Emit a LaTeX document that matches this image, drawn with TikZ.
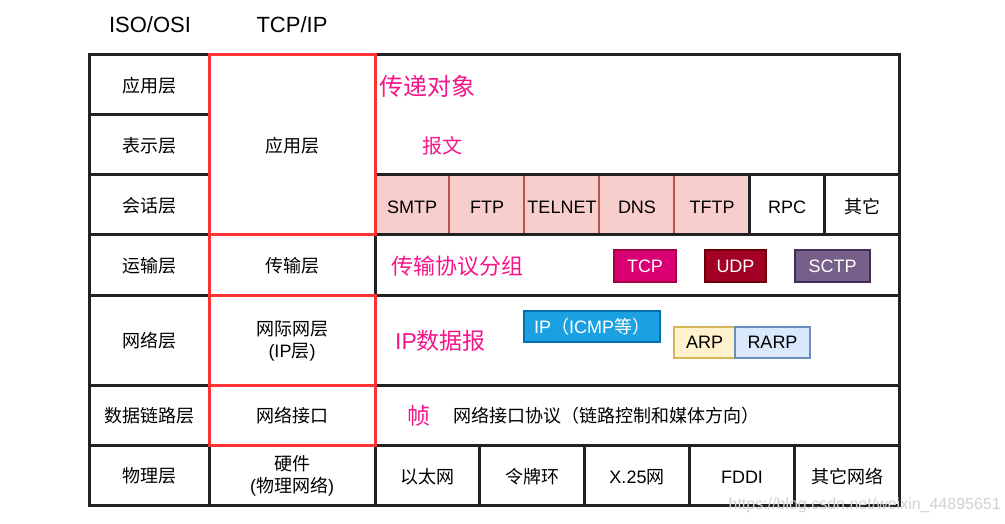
\documentclass[tikz,border=0pt]{standalone}
\usepackage{fontspec}
\setmainfont{Liberation Sans}
\newfontfamily\cjk{Noto Sans CJK SC}
\definecolor{gridc}{HTML}{222222}
\definecolor{redc}{HTML}{FF3333}
\definecolor{pinkc}{HTML}{F5158A}
\definecolor{cellpink}{HTML}{F8CECC}
\definecolor{cellpinkd}{HTML}{B85450}
\definecolor{tcpf}{HTML}{D80073}
\definecolor{tcpd}{HTML}{A50040}
\definecolor{udpf}{HTML}{A20025}
\definecolor{udpd}{HTML}{6F0000}
\definecolor{sctpf}{HTML}{76608A}
\definecolor{sctpd}{HTML}{432D57}
\definecolor{ipf}{HTML}{1BA1E2}
\definecolor{ipd}{HTML}{006EAF}
\definecolor{arpf}{HTML}{FFF2CC}
\definecolor{arpd}{HTML}{D6B656}
\definecolor{rarpf}{HTML}{DAE8FC}
\definecolor{rarpd}{HTML}{6C8EBF}
\begin{document}
\begin{tikzpicture}[x=1pt,y=-1pt,
  gridline/.style={draw=gridc, line width=3pt},
  redline/.style={draw=redc, line width=3pt},
  cell/.style={font=\fontsize{18}{22}\selectfont, align=center, inner sep=0pt, text=black},
  head/.style={font=\fontsize{22}{26}\selectfont, inner sep=0pt},
  pinkt/.style={text=pinkc, inner sep=0pt},
  proto/.style={line width=1.2pt, minimum height=31pt, inner sep=0pt, font=\fontsize{18}{22}\selectfont},
]
\useasboundingbox (0,0) rectangle (1005,524);
% headings
\node[head] (hiso) at (150,25) {ISO/OSI};
\node[head] (htcp) at (292,25) {TCP/IP};
% pink cells
\fill[cellpink] (375,175) rectangle (749,235);
\foreach \x in {449,524,599,674} \draw[cellpinkd, line width=2.5pt] (\x,175) -- (\x,235);
% black grid
\draw[gridline] (89,55) rectangle (899,505);
\draw[gridline] (209,55) -- (209,505);
\draw[gridline] (375,55) -- (375,505);
\draw[gridline] (89,115) -- (209,115);
\draw[gridline] (89,175) -- (209,175);
\draw[gridline] (375,175) -- (899,175);
\foreach \y in {235,295,385,445} \draw[gridline] (89,\y) -- (899,\y);
\foreach \x in {749,824} \draw[gridline] (\x,175) -- (\x,235);
\foreach \x in {479,584,689,794} \draw[gridline] (\x,445) -- (\x,505);
% red boxes
\draw[redline] (209,55) rectangle (375,235);
\draw[redline] (209,235) -- (209,295);
\draw[redline] (209,295) rectangle (375,385);
\draw[redline] (209,385) rectangle (375,445);
\draw[redline] (209,235) -- (374,235);
% OSI column
\node[cell] (o1) at (149,86) {\cjk 应用层};
\node[cell] (o2) at (149,146) {\cjk 表示层};
\node[cell] (o3) at (149,206) {\cjk 会话层};
\node[cell] (o4) at (149,266) {\cjk 运输层};
\node[cell] (o5) at (149,341) {\cjk 网络层};
\node[cell] (o6) at (149,416) {\cjk 数据链路层};
\node[cell] (o7) at (149,476) {\cjk 物理层};
% TCP/IP column
\node[cell] (t1) at (292,146) {\cjk 应用层};
\node[cell] (t2) at (292,266) {\cjk 传输层};
\node[cell] (t3) at (292,341) {{\cjk 网际网层}\\(IP{\cjk 层})};
\node[cell] (t4) at (292,416) {\cjk 网络接口};
\node[cell] (t5) at (292,476) {{\cjk 硬件}\\({\cjk 物理网络})};
% pink labels
\node[pinkt, font=\fontsize{24}{28}\selectfont, anchor=west] (l1) at (379,86) {\cjk 传递对象};
\node[pinkt, font=\fontsize{20}{24}\selectfont, anchor=west] (l2) at (422,146) {\cjk 报文};
\node[pinkt, font=\fontsize{22}{26}\selectfont, anchor=west] (l3) at (391,266) {\cjk 传输协议分组};
\node[pinkt, font=\fontsize{23}{27}\selectfont, anchor=west] (l4) at (395,341) {IP{\cjk 数据报}};
\node[pinkt, font=\fontsize{23}{27}\selectfont, anchor=west] (l5) at (407,416) {\cjk 帧};
\node[cell, anchor=west] (l6) at (453,416) {\cjk 网络接口协议（链路控制和媒体方向）};
% application protocols
\node[cell] (p1) at (412,207) {SMTP};
\node[cell] (p2) at (487,207) {FTP};
\node[cell] (p3) at (562,207) {TELNET};
\node[cell] (p4) at (637,207) {DNS};
\node[cell] (p5) at (712,207) {TFTP};
\node[cell] (p6) at (787,207) {RPC};
\node[cell] (p7) at (862,207) {\cjk 其它};
% transport protocols
\node[proto, draw=tcpd, fill=tcpf, text=white, minimum width=62pt, minimum height=32pt] (tcp) at (645,266) {TCP};
\node[proto, draw=udpd, fill=udpf, text=white, minimum width=61pt, minimum height=32pt] (udp) at (735.5,266) {UDP};
\node[proto, draw=sctpd, fill=sctpf, text=white, minimum width=75pt, minimum height=32pt] (sctp) at (832.5,266) {SCTP};
% network protocols
\node[proto, draw=ipd, fill=ipf, text=white, minimum width=136pt] (ip) at (592,326.5) {IP{\cjk （}ICMP{\cjk 等）}};
\node[proto, draw=arpd, fill=arpf, text=black, minimum width=61pt] (arp) at (704.5,342.5) {ARP};
\node[proto, draw=rarpd, fill=rarpf, text=black, minimum width=75pt] (rarp) at (772.5,342.5) {RARP};
% physical
\node[cell] (n1) at (427,477) {\cjk 以太网};
\node[cell] (n2) at (532,477) {\cjk 令牌环};
\node[cell] (n3) at (637,477) {X.25{\cjk 网}};
\node[cell] (n4) at (742,477) {FDDI};
\node[cell] (n5) at (847,477) {\cjk 其它网络};
% watermark
\node[text=black!18, font=\fontsize{16}{18}\selectfont, anchor=east, inner sep=0pt] (wm) at (1001,505) {https://blog.csdn.net/weixin\_44895651};
\end{tikzpicture}
\end{document}
